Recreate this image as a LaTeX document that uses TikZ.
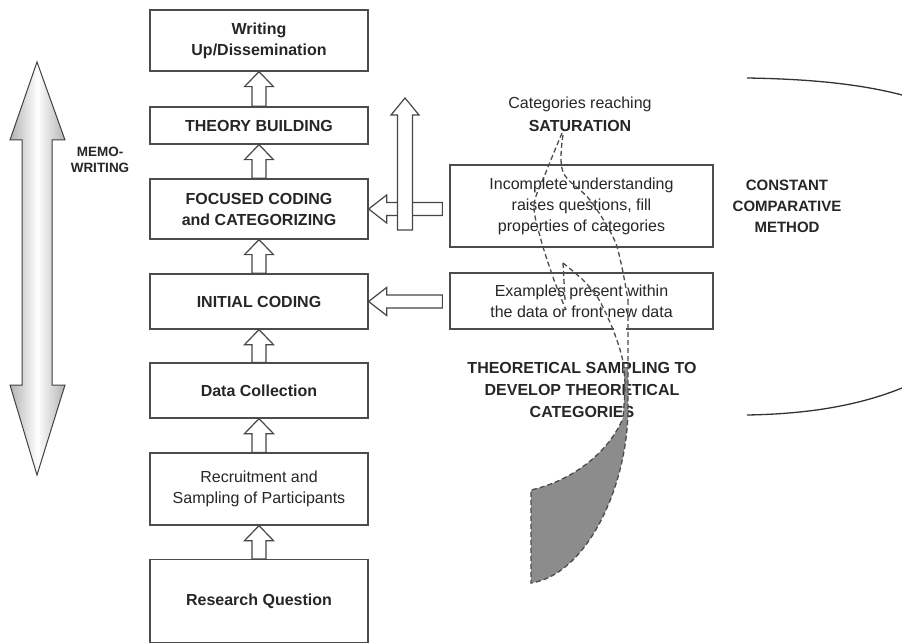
\documentclass[tikz,border=0pt]{standalone}
\usepackage{fontspec}
\setmainfont{Liberation Sans}
\usetikzlibrary{calc}
\newcommand{\blockup}[5]{%
 \draw[blk] let \p1=(#1), \p2=(#2) in (\x1-#3pt,\y1) -- (\x1-#3pt,\y2-#5pt) -- (\x1-#4pt,\y2-#5pt) -- (\x1,\y2) -- (\x1+#4pt,\y2-#5pt) -- (\x1+#3pt,\y2-#5pt) -- (\x1+#3pt,\y1) -- cycle;}
\newcommand{\blockleft}[2]{%
 \draw[blk] let \p1=(#1), \p2=(#2) in (\x1,\y2+6.5pt) -- (\x2+18pt,\y2+6.5pt) -- (\x2+18pt,\y2+14pt) -- (\x2,\y2) -- (\x2+18pt,\y2-14pt) -- (\x2+18pt,\y2-6.5pt) -- (\x1,\y2-6.5pt) -- cycle;}
\begin{document}
\begin{tikzpicture}[x=1pt,y=-1pt,
 box/.style={draw=gray!60!black, line width=1.3pt, minimum width=218pt, align=center, inner sep=2pt, text=black!85, font=\fontsize{16}{21}\selectfont\bfseries},
 rbox/.style={draw=gray!60!black, line width=1.3pt, minimum width=263pt, align=center, text=black!85, font=\fontsize{16}{21}\selectfont},
 blk/.style={draw=gray!55!black, fill=white, line width=1.2pt},
 dsh/.style={draw=black!70, line width=1.3pt, dash pattern=on 5pt off 3pt},
 lbl/.style={align=center, text=black!85, font=\fontsize{16}{22}\selectfont\bfseries}]
\useasboundingbox (0,0) rectangle (902,644);

% memo-writing double arrow
\shadedraw[left color=gray!60, right color=gray!60, middle color=white, draw=gray!50!black, line width=1pt]
 (37,62) -- (65,140) -- (52,140) -- (52,385) -- (65,385) -- (37,475) -- (10,385) -- (22,385) -- (22,140) -- (10,140) -- cycle;
\node[lbl, font=\fontsize{13.5}{15.5}\selectfont\bfseries] (mw) at (100,160) {MEMO-\\WRITING};

% left column
\node[box, minimum height=61pt] (wr) at (259,40.5) {Writing\\Up/Dissemination};
\node[box, minimum height=37pt] (tb) at (259,125.5) {THEORY BUILDING};
\node[box, minimum height=60pt] (fc) at (259,209) {FOCUSED CODING\\and CATEGORIZING};
\node[box, minimum height=55pt] (ic) at (259,301.5) {INITIAL CODING};
\node[box, minimum height=55pt] (dc) at (259,390.5) {Data Collection};
\node[box, minimum height=72pt, font=\fontsize{16}{21}\selectfont] (rs) at (259,489) {Recruitment and\\Sampling of Participants};
\node[box, minimum height=83pt] (rq) at (259,601) {Research Question};

\blockup{tb.north}{wr.south}{7}{14.5}{15}
\blockup{fc.north}{tb.south}{7}{14.5}{15}
\blockup{ic.north}{fc.south}{7}{14.5}{15}
\blockup{dc.north}{ic.south}{7}{14.5}{15}
\blockup{rs.north}{dc.south}{7}{14.5}{15}
\blockup{rq.north}{rs.south}{7}{14.5}{15}

% right boxes
\node[rbox, minimum height=82pt] (inc) at (581.5,206) {Incomplete understanding\\raises questions, fill\\properties of categories};
\node[rbox, minimum height=56pt] (ex) at (581.5,301) {Examples present within\\the data or front new data};

\coordinate (s1) at ($(inc.west)+(-7,0)$);
\coordinate (s2) at ($(ex.west)+(-7,0)$);
\blockleft{s1}{fc.east}
\blockleft{s2}{ic.east}

\coordinate (vb) at (405,230);
\coordinate (vt) at (405,98);
\blockup{vb}{vt}{7.5}{14}{17}

% labels
\node[align=center, text=black!85, font=\fontsize{16}{23}\selectfont] (sat) at (580,114.5) {Categories reaching\\\textbf{SATURATION}};
\node[lbl] (ts) at (582,390) {THEORETICAL SAMPLING TO\\DEVELOP THEORETICAL\\CATEGORIES};
\node[lbl, font=\fontsize{15}{21}\selectfont\bfseries] (ccm) at (787,206) {CONSTANT\\COMPARATIVE\\METHOD};

% ribbon
\fill[white] (614,325) rectangle (626,333);
\fill[black!45] (628,368) -- (628,410) .. controls (627,490) and (585,575) .. (531,583) -- (531,490) .. controls (575,480) and (610,450) .. (623,418) -- (625,385) -- (623,368) -- cycle;
\draw[dsh] (628,300) -- (628,410) .. controls (627,490) and (585,575) .. (531,583) -- (531,490) .. controls (575,480) and (610,450) .. (623,418);
\draw[dsh] plot[smooth, tension=0.6] coordinates {(563,135) (563,172) (590,200) (613,237) (621,263) (628,300)};
\draw[dsh] plot[smooth] coordinates {(563,263) (583,280) (598,298) (612,327) (622,357) (625,385) (623,418)};
\draw[dsh] plot[smooth] coordinates {(562,133) (546,172) (534,205) (541,240) (554,280) (566,310)};
\draw[dsh] (563,263) -- (565,300);

% constant comparative bracket
\draw[line width=1.3pt, black!80] (747,78) .. controls (810,79) and (860,84) .. (902,95);
\draw[line width=1.3pt, black!80] (747,415) .. controls (810,414) and (860,405) .. (902,388);
\end{tikzpicture}
\end{document}
